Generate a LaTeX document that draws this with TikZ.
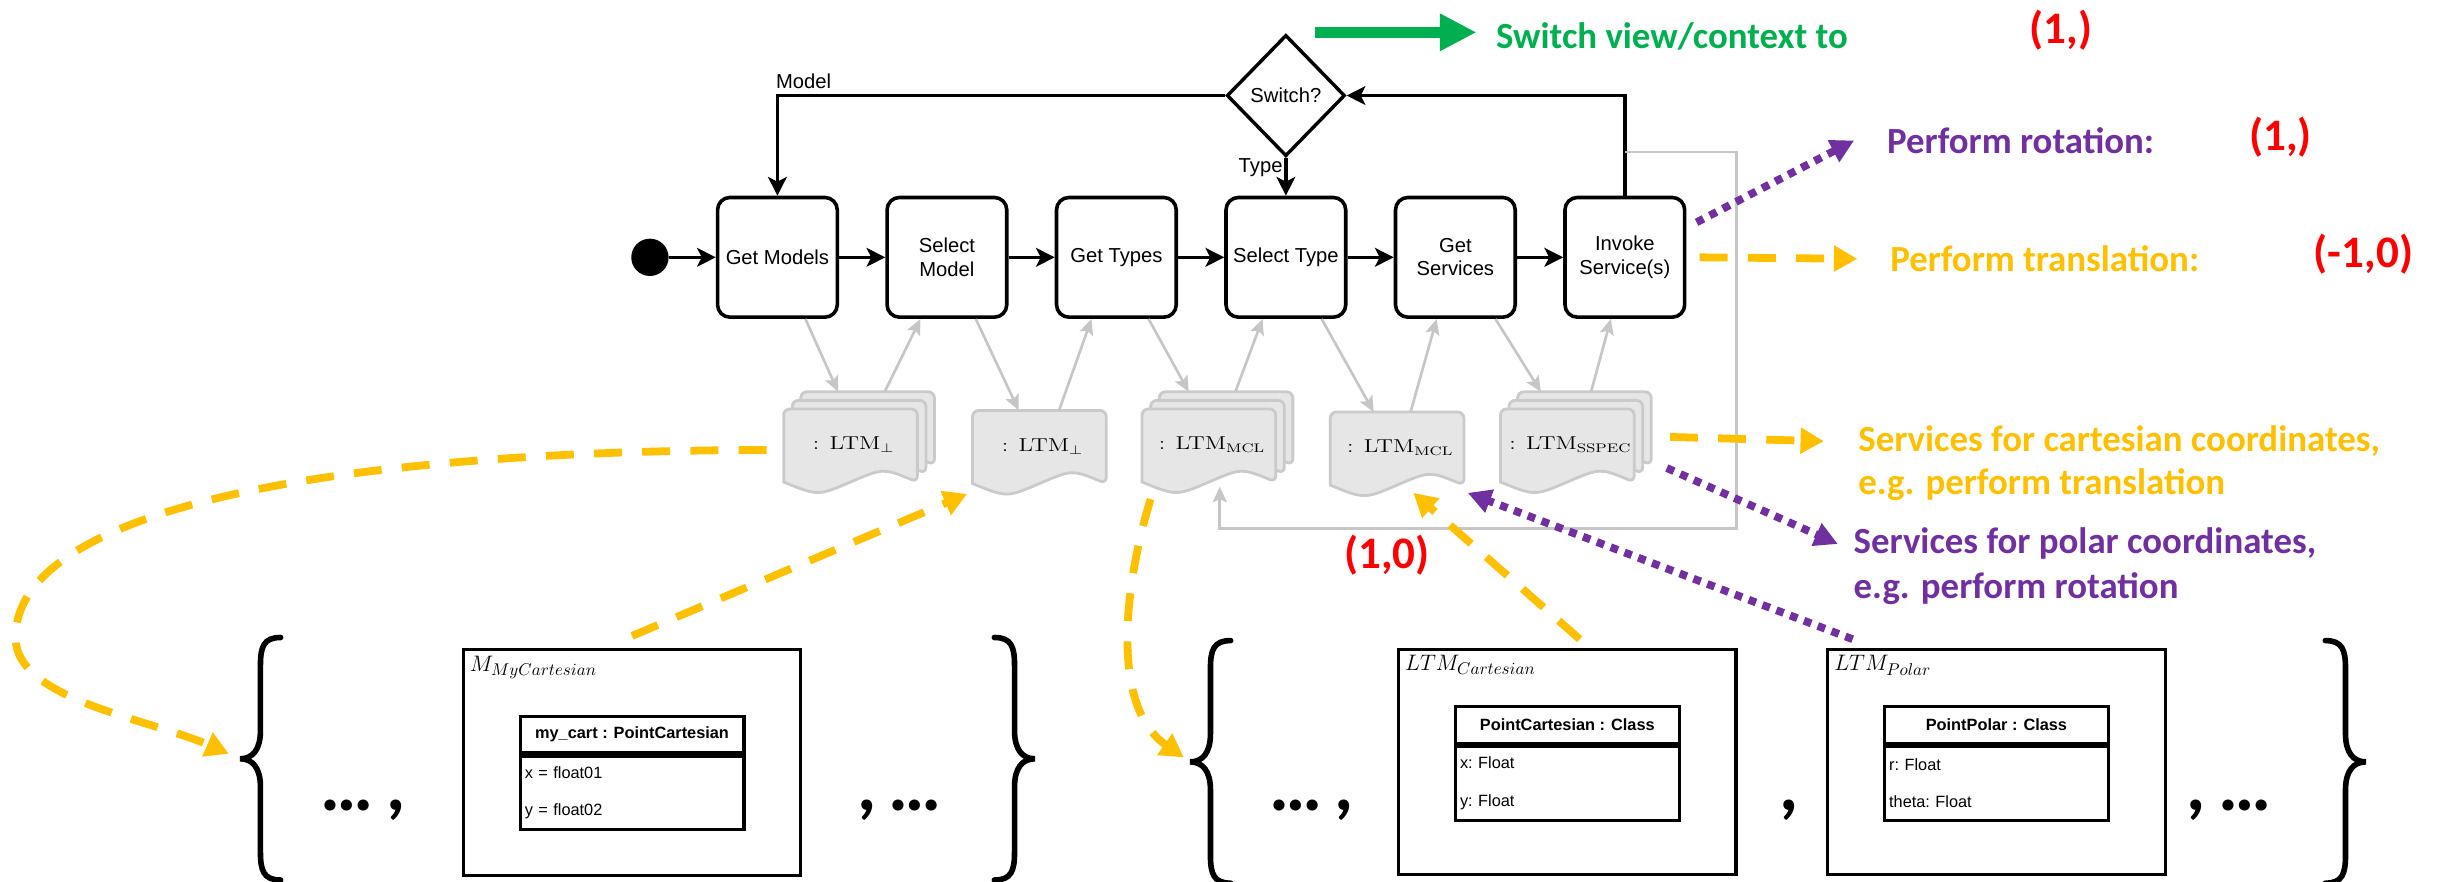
\documentclass[tikz,border=0pt]{standalone}
\usepackage{fontspec}
\usepackage{graphicx}
\setsansfont{Liberation Sans}
\newfontfamily\calloutfont{Carlito}
\usetikzlibrary{positioning, arrows.meta, shapes.geometric}
\definecolor{switchgreen}{HTML}{00B050}
\definecolor{rotpurple}{HTML}{7030A0}
\definecolor{transgold}{HTML}{FFC000}
\definecolor{vecred}{HTML}{FF0000}
\definecolor{storegray}{HTML}{C6C6C6}
\definecolor{pagefill}{HTML}{E6E6E6}
\definecolor{pageedge}{HTML}{CACACA}

\tikzset{
  ltmpage/.pic={
    \filldraw[fill=pagefill, draw=pageedge, line width=1.8pt]
      (-43,24) [rounded corners=4pt] -- (-43,-23) -- (43,-23) -- (43,24) [sharp corners]
      .. controls (21,15) .. (0,24) .. controls (-21,33) .. (-43,24) -- cycle;
  },
  curly/.pic={
    \draw[line width=3.6pt, line cap=round]
      (26,-78) .. controls (15,-78) and (13,-72) .. (13,-60) -- (13,-18)
      .. controls (13,-6) and (8,0) .. (0,0) .. controls (8,0) and (13,6) .. (13,18)
      -- (13,60) .. controls (13,72) and (15,78) .. (26,78);
  },
}

\newcommand\ltmdoc[4]{%
  \begin{scope}[shift={#2}]
    \ifnum#4>1 \pic[shift={(11,-11)}] {ltmpage};\fi
    \ifnum#4>0 \pic[shift={(5.5,-5.5)}] {ltmpage};\fi
    \pic {ltmpage};
    \node[ltmlabel] (#1) at (2,0) {\scalebox{1.27}[1]{: LTM$_{#3}$}};
    \coordinate (#1-top) at (#4*5.5,-23-#4*5.5);
    \coordinate (#1-bot) at (0,27);
  \end{scope}}

\begin{document}
\begin{tikzpicture}[x=1pt, y=-1pt,
  action/.style={draw, line width=2.3pt, rounded corners=8pt, minimum width=77pt,
    minimum height=77pt, inner sep=2pt, align=center, font=\sffamily\fontsize{13}{15}\selectfont},
  decision/.style={diamond, draw, line width=2.2pt, minimum width=76pt, minimum height=78pt,
    inner sep=0pt, font=\sffamily\fontsize{13}{15}\selectfont},
  startdot/.style={circle, fill, minimum size=24pt, inner sep=0pt},
  flowlabel/.style={font=\sffamily\fontsize{13}{15}\selectfont, inner sep=1pt},
  flow/.style={-{Stealth[length=12pt, width=12pt, inset=3pt]}, line width=2.3pt},
  store/.style={-{Stealth[length=10pt, width=9pt, inset=2pt]}, line width=1.7pt, draw=storegray},
  ltmlabel/.style={font=\fontsize{12}{14}\selectfont, inner sep=0pt},
  callout/.style={font=\calloutfont\bfseries\fontsize{23.7}{28}\selectfont, inner sep=1pt, anchor=base west},
  vecmark/.style={font=\calloutfont\bfseries\fontsize{29}{34}\selectfont, text=vecred, inner sep=0pt},
  goldlink/.style={draw=transgold, line width=5pt, dash pattern=on 18pt off 13pt,
    -{Triangle[length=15pt, width=16pt]}},
  purplelink/.style={draw=rotpurple, line width=5pt, dash pattern=on 5pt off 4.5pt,
    -{Triangle[length=15pt, width=15pt]}},
  switchlink/.style={draw=switchgreen, line width=7.5pt, -{Triangle[length=23.5pt, width=22.5pt]}},
  modelbox/.style={draw, line width=2pt, minimum width=217pt, minimum height=145pt, inner sep=0pt},
  modelname/.style={font=\fontsize{15}{18}\selectfont, anchor=north west, inner sep=5pt},
  classhead/.style={draw, line width=2pt, minimum width=144pt, minimum height=23.5pt, inner sep=2pt,
    font=\sffamily\bfseries\fontsize{10.5}{12}\selectfont},
  classbody/.style={draw, line width=2pt, text width=138pt, minimum height=47.5pt, inner sep=3pt,
    align=left, font=\sffamily\frenchspacing\fontsize{10.5}{24}\selectfont},
  bigdots/.style={font=\calloutfont\bfseries\fontsize{48}{50}\selectfont, anchor=base west, inner sep=0pt},
]
  \path[use as bounding box, fill=white] (0,0) rectangle (1568,567);

  \node[startdot] (start) at (418,165.5) {};
  \node[action] (gm) at (500,165.5) {Get Models};
  \node[action, right=29.7pt of gm] (sm) {Select\\Model};
  \node[action, right=29.7pt of sm] (gt) {Get Types};
  \node[action, right=29.7pt of gt] (st) {Select Type};
  \node[action, right=29.7pt of st] (gs) {Get\\Services};
  \node[action, right=29.7pt of gs] (inv) {Invoke\\Service(s)};
  \node[decision, above=24.3pt of st] (sw) {Switch?};

  \draw[flow] (start) -- (gm);
  \foreach \a/\b in {gm/sm, sm/gt, gt/st, st/gs, gs/inv}
    \draw[flow] (\a) -- (\b);
  \draw[flow] (sw.west) -| node[flowlabel, pos=0.5, anchor=south west, xshift=-3pt, yshift=2pt] (modellbl) {Model} (gm.north);
  \draw[flow] (sw.south) -- node[flowlabel, pos=0.25, anchor=east] (typelbl) {Type} (st.north);
  \draw[flow] (inv.north) |- (sw.east);

  \ltmdoc{d1}{(547,286)}{\perp}{2}
  \ltmdoc{d2}{(668.5,287)}{\perp}{0}
  \ltmdoc{d3}{(777.5,286)}{\mathrm{MCL}}{2}
  \ltmdoc{d4}{(898.5,288)}{\mathrm{MCL}}{0}
  \ltmdoc{d5}{(1008,286)}{\mathrm{SSPEC}}{2}

  \foreach \from/\fs/\to/\ts in {gm.south/18/d1-top/-19, d1-top/11/sm.south/-17,
      sm.south/18.6/d2-top/-13.3, d2-top/12.6/gt.south/-16, gt.south/20.7/d3-top/-24,
      d3-top/6/st.south/-15, st.south/23/d4-top/-15, d4-top/8.7/gs.south/-12,
      gs.south/25.8/d5-top/-28, d5-top/4.3/inv.south/-9}
    \draw[store] ([xshift=\fs pt]\from) -- ([xshift=\ts pt]\to);
  \draw[store] ([yshift=28pt]inv.north) -| (1117,340) -| ([xshift=7pt]d3-bot);

  \node[callout, text=switchgreen] (ctx) at (961,31) {Switch view/context to};
  \node[callout, text=rotpurple] (rot) at (1212.5,98.6) {Perform rotation:};
  \node[callout, text=transgold] (trans) at (1214.5,174.7) {Perform translation:};
  \node[callout, text=transgold] (cart1) at (1194,290.5) {Services for cartesian coordinates,};
  \node[callout, text=transgold] (cart2) at (1194,318.3) {e.g. perform translation};
  \node[callout, text=rotpurple] (polar1) at (1191,356.3) {Services for polar coordinates,};
  \node[callout, text=rotpurple] (polar2) at (1191,384.8) {e.g. perform rotation};

  \node[vecmark] (vec1) at (1325.5,19.3) {(1,)};
  \node[vecmark] (vec2) at (1466.7,88) {(1,)};
  \node[vecmark] (vec3) at (1520,163.5) {(-1,0)};
  \node[vecmark] (vec4) at (892,357) {(1,0)};

  \coordinate (swfrom) at (846,20.8);
  \coordinate (swto) at (949.6,20.8);
  \draw[switchlink] (swfrom) -- (swto);

  \draw[purplelink] ([shift={(6.5,-22.5)}]inv.east) -- ([xshift=-20pt]rot.west);
  \draw[goldlink] ([xshift=8.5pt]inv.east) -- ([xshift=-20pt]trans.west);
  \draw[goldlink] ([shift={(64,-5)}]d5.center) -- ([xshift=-21pt]cart1.west);
  \draw[purplelink] ([shift={(62,15)}]d5.center) -- ([xshift=-9pt]polar1.west);

  \node[modelbox] (mycart) at (406.5,490.5) {};
  \node[modelname] (mycartname) at (mycart.north west) {$M_{MyCartesian}$};
  \node[classhead] (mycarthead) at (406.5,472.5) {my\_cart : PointCartesian};
  \node[classbody, below=0pt of mycarthead] (mycartbody) {x = float01\\y = float02};

  \node[modelbox] (ltmcart) at (1008,490) {};
  \node[modelname] (ltmcartname) at (ltmcart.north west) {$LTM_{Cartesian}$};
  \node[classhead] (carthead) at (1008,466.3) {PointCartesian : Class};
  \node[classbody, below=0pt of carthead] (cartbody) {x: Float\\y: Float};

  \node[modelbox] (ltmpolar) at (1284,490) {};
  \node[modelname] (ltmpolarname) at (ltmpolar.north west) {$LTM_{Polar}$};
  \node[classhead] (polarhead) at (1284,466.3) {PointPolar : Class};
  \node[classbody, below=0pt of polarhead] (polarbody) {r: Float\\theta: Float};

  \coordinate (lb1) at (154.5,488);
  \coordinate (rb1) at (665.5,488);
  \coordinate (lb2) at (765.5,490);
  \coordinate (rb2) at (1521.5,490);
  \pic at (lb1) {curly};
  \pic[xscale=-1] at (rb1) {curly};
  \pic at (lb2) {curly};
  \pic[xscale=-1] at (rb2) {curly};

  \node[bigdots] (etc1a) at (206,521) {…\,,};
  \node[bigdots] (etc1b) at (551,521) {,\,…};
  \node[bigdots] (etc2a) at (816,521) {…\,,};
  \node[bigdots] (sep2) at (1144,521) {,};
  \node[bigdots] (etc2b) at (1406,521) {,\,…};

  \draw[goldlink, shorten >=8pt] ([shift={(-56,3.4)}]d1.center) .. controls (200,290) and (10,330) .. (10,410)
    .. controls (10,450) and (95,462) .. (lb1);
  \draw[goldlink, shorten >=5pt] ([shift={(-39.5,35)}]d3.center) .. controls (722,380) and (715,455) .. (lb2);
  \draw[goldlink] ([yshift=8pt]mycart.north) -- ([shift={(-48.5,30.7)}]d2.center);
  \draw[goldlink] ([shift={(8,-5.4)}]ltmcart.north) -- ([shift={(8.5,29)}]d4.center);
  \draw[purplelink] ([shift={(17,-5.4)}]ltmpolar.north west) -- ([shift={(43.5,29)}]d4.center);
\end{tikzpicture}
\end{document}
